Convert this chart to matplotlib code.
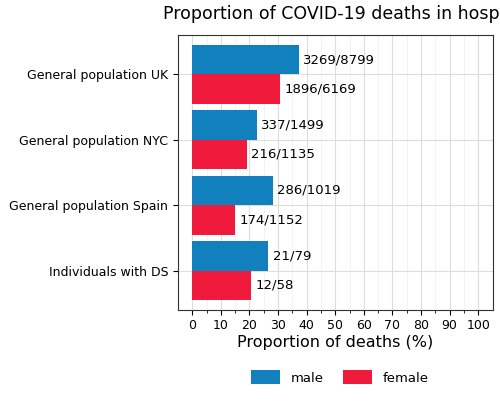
import matplotlib
matplotlib.use("Agg")
import matplotlib.pyplot as plt
import numpy as np

categories = ["General population UK", "General population NYC", "General population Spain", "Individuals with DS"]
male_deaths = [3269, 337, 286, 21]
male_total = [8799, 1499, 1019, 79]
female_deaths = [1896, 216, 174, 12]
female_total = [6169, 1135, 1152, 58]
xticks = list(range(0, 101, 10))

male_pct = [100 * d / t for d, t in zip(male_deaths, male_total)]
female_pct = [100 * d / t for d, t in zip(female_deaths, female_total)]

fig = plt.figure(figsize=(5, 4.13), dpi=100)
ax = fig.add_axes([0.356, 0.25, 0.629, 0.665])
y = np.arange(len(categories))[::-1]
h = 0.45
c_m, c_f = "#1380BE", "#F01A3C"
ax.barh(y + h / 2, male_pct, height=h, color=c_m, label="male", zorder=3)
ax.barh(y - h / 2, female_pct, height=h, color=c_f, label="female", zorder=3)
for yi, p, d, t in zip(y, male_pct, male_deaths, male_total):
    ax.text(p + 1.5, yi + h / 2, f"{d}/{t}", va="center", fontsize=9.5, zorder=4)
for yi, p, d, t in zip(y, female_pct, female_deaths, female_total):
    ax.text(p + 1.5, yi - h / 2, f"{d}/{t}", va="center", fontsize=9.5, zorder=4)

ax.set_xlim(-5, 105)
ax.set_ylim(-0.6, 3.6)
ax.set_xticks(xticks)
ax.set_xticks(np.arange(5, 100, 10), minor=True)
ax.set_yticks(y)
ax.set_yticklabels(categories, fontsize=9)
ax.tick_params(axis="x", labelsize=9)
ax.grid(True, which="major", color="#DDDDDD", lw=0.8, zorder=0)
ax.grid(True, which="minor", axis="x", color="#EEEEEE", lw=0.5, zorder=0)
for s in ax.spines.values():
    s.set_color("#333333")
ax.set_xlabel("Proportion of deaths (%)", fontsize=11.5, labelpad=2)
fig.text(0.69, 0.965, "Proportion of COVID-19 deaths in hospital", ha="center", va="center", fontsize=12.5)
fig.legend(loc="lower center", bbox_to_anchor=(0.68, 0.04), ncol=2, frameon=False, fontsize=9.5,
           handlelength=2.2, handleheight=1.3, columnspacing=1.5)
fig.savefig("out.png", dpi=100)
